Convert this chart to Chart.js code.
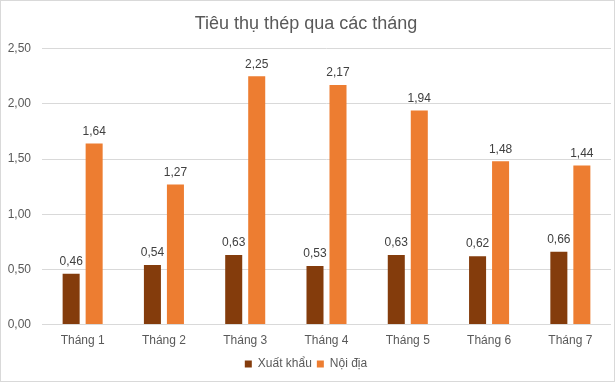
<!DOCTYPE html>
<html>
<head>
<meta charset="utf-8">
<script src="https://cdn.jsdelivr.net/npm/chart.js@4.4.1/dist/chart.umd.min.js"></script>
<style>
    html, body { margin: 0; padding: 0; background: #fff; }
    .box {
        width: 615px; height: 382px; box-sizing: border-box;
        border: 1px solid #d9d9d9; position: relative;
    }
    canvas { display: block; }
</style>
</head>
<body>
<div class="box"><canvas id="chart" width="613" height="380"></canvas></div>
<script>
    // Dados
    const categories = ['Tháng 1', 'Tháng 2', 'Tháng 3', 'Tháng 4', 'Tháng 5', 'Tháng 6', 'Tháng 7'];
    const xuatKhau = [0.46, 0.54, 0.63, 0.53, 0.63, 0.62, 0.66];
    const noiDia = [1.64, 1.27, 2.25, 2.17, 1.94, 1.48, 1.44];
    const yTicks = [0, 0.5, 1, 1.5, 2, 2.5];

    const fmt = v => v.toFixed(2).replace('.', ',');

    Chart.defaults.font.family = '"Liberation Sans", Arial, sans-serif';
    Chart.defaults.color = '#595959';

    // Rótulos de valor acima das barras
    const valueLabels = {
        id: 'valueLabels',
        afterDatasetsDraw(chart) {
            const ctx = chart.ctx;
            ctx.save();
            ctx.font = '12px "Liberation Sans", Arial, sans-serif';
            ctx.fillStyle = '#404040';
            ctx.textAlign = 'center';
            ctx.textBaseline = 'bottom';
            chart.data.datasets.forEach((ds, i) => {
                chart.getDatasetMeta(i).data.forEach((bar, j) => {
                    ctx.fillText(fmt(ds.data[j]), bar.x, bar.y - 6);
                });
            });
            ctx.restore();
        }
    };

    new Chart(document.getElementById('chart'), {
        type: 'bar',
        data: {
            labels: categories,
            datasets: [{
                label: 'Xuất khẩu',
                data: xuatKhau,
                backgroundColor: '#843c0c',
                barPercentage: 0.74,
                categoryPercentage: 0.566
            }, {
                label: 'Nội địa',
                data: noiDia,
                backgroundColor: '#ed7d31',
                barPercentage: 0.74,
                categoryPercentage: 0.566
            }]
        },
        options: {
            responsive: false,
            animation: false,
            devicePixelRatio: 1,
            layout: { padding: { left: 0, right: 3, top: 0, bottom: 1 } },
            plugins: {
                title: {
                    display: true,
                    text: 'Tiêu thụ thép qua các tháng',
                    font: { size: 18, weight: 'normal' },
                    color: '#595959',
                    padding: { top: 12, bottom: 14 }
                },
                legend: {
                    position: 'bottom',
                    labels: {
                        boxWidth: 7, boxHeight: 7,
                        font: { size: 12 },
                        padding: 5
                    }
                },
                tooltip: { enabled: false }
            },
            scales: {
                x: {
                    grid: { display: false },
                    border: { display: false },
                    afterFit: axis => { axis.height += 4; },
                    ticks: { font: { size: 12 }, padding: 1, maxRotation: 0 }
                },
                y: {
                    min: 0, max: 2.5,
                    afterBuildTicks: axis => { axis.ticks = yTicks.map(v => ({ value: v })); },
                    afterFit: axis => { axis.width = 41; },
                    grid: { color: '#d9d9d9', drawTicks: false },
                    border: { display: false },
                    ticks: { font: { size: 12 }, padding: 11, callback: v => fmt(v) }
                }
            }
        },
        plugins: [valueLabels]
    });
</script>
</body>
</html>
